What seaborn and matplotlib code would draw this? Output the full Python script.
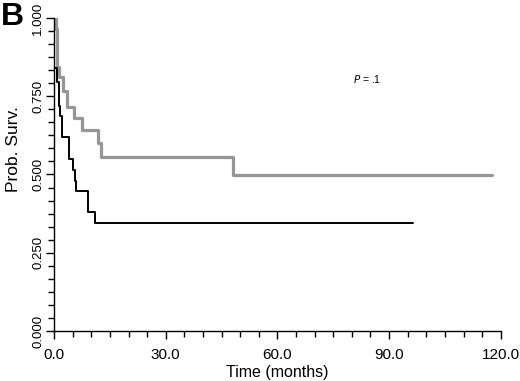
import matplotlib
matplotlib.use('Agg')
import matplotlib.pyplot as plt
import seaborn as sns
import numpy as np
import pandas as pd
from matplotlib.ticker import MultipleLocator, FormatStrFormatter

# Kaplan-Meier step data (months, survival probability)
gray_t = [0.0, 0.5, 0.9, 1.4, 2.3, 3.4, 5.4, 7.4, 11.7, 12.6, 48.2, 117.7]
gray_s = [1.000, 0.965, 0.843, 0.810, 0.767, 0.714, 0.680, 0.641, 0.599, 0.555, 0.497, 0.497]

black_t = [0.0, 0.1, 0.7, 1.2, 1.6, 2.2, 4.1, 5.0, 5.5, 5.8, 9.2, 11.0, 96.3]
black_s = [0.962, 0.840, 0.795, 0.719, 0.687, 0.621, 0.551, 0.514, 0.479, 0.447, 0.379, 0.345, 0.345]

df_gray = pd.DataFrame({'time': gray_t, 'surv': gray_s})
df_black = pd.DataFrame({'time': black_t, 'surv': black_s})

sns.set_style('ticks')
plt.rcParams['font.family'] = ['Liberation Sans', 'DejaVu Sans']
plt.rcParams['text.color'] = 'black'
plt.rcParams['axes.labelcolor'] = 'black'
plt.rcParams['xtick.color'] = 'black'
plt.rcParams['ytick.color'] = 'black'
plt.rcParams['axes.edgecolor'] = 'black'

fig = plt.figure(figsize=(5.2, 3.81), dpi=100)
ax = fig.add_axes([0.104, 0.131, 0.859, 0.822])

sns.lineplot(data=df_gray, x='time', y='surv', ax=ax, color='#969696', lw=2.3,
             drawstyle='steps-post', estimator=None, sort=False)
sns.lineplot(data=df_black, x='time', y='surv', ax=ax, color='black', lw=1.4,
             drawstyle='steps-post', estimator=None, sort=False)

ax.set_xlim(0, 120)
ax.set_ylim(0, 1.0)
ax.xaxis.set_major_locator(MultipleLocator(30))
ax.xaxis.set_minor_locator(MultipleLocator(5))
ax.yaxis.set_major_locator(MultipleLocator(0.25))
ax.yaxis.set_minor_locator(MultipleLocator(0.25 / 6))
ax.xaxis.set_major_formatter(FormatStrFormatter('%.1f'))
ax.yaxis.set_major_formatter(FormatStrFormatter('%.3f'))

sns.despine(ax=ax)
for s in ['left', 'bottom']:
    ax.spines[s].set_linewidth(1.0)
    ax.spines[s].set_color('black')

ax.tick_params(axis='both', which='major', length=6, width=1, color='black')
ax.tick_params(axis='both', which='minor', length=4, width=1, color='black')
ax.tick_params(axis='x', labelsize=11, pad=6, labelcolor='black')
ax.tick_params(axis='y', labelsize=9.5, pad=1, labelcolor='black')
for lab in ax.get_yticklabels():
    lab.set_rotation(90)
    lab.set_va('center')

ax.set_xlabel('Time (months)', fontsize=11.5, labelpad=2, color='black')
ax.set_ylabel('Prob. Surv.', fontsize=12.5, color='black')
ax.yaxis.set_label_coords(-0.075, 0.58)

ax.text(84, 0.804, r'$P$ = .1', fontsize=7.5, ha='center', va='center', color='black')
fig.text(0.002, 0.995, 'B', fontsize=23, fontweight='bold', ha='left', va='top', color='black')

fig.savefig('out.png', dpi=100)
